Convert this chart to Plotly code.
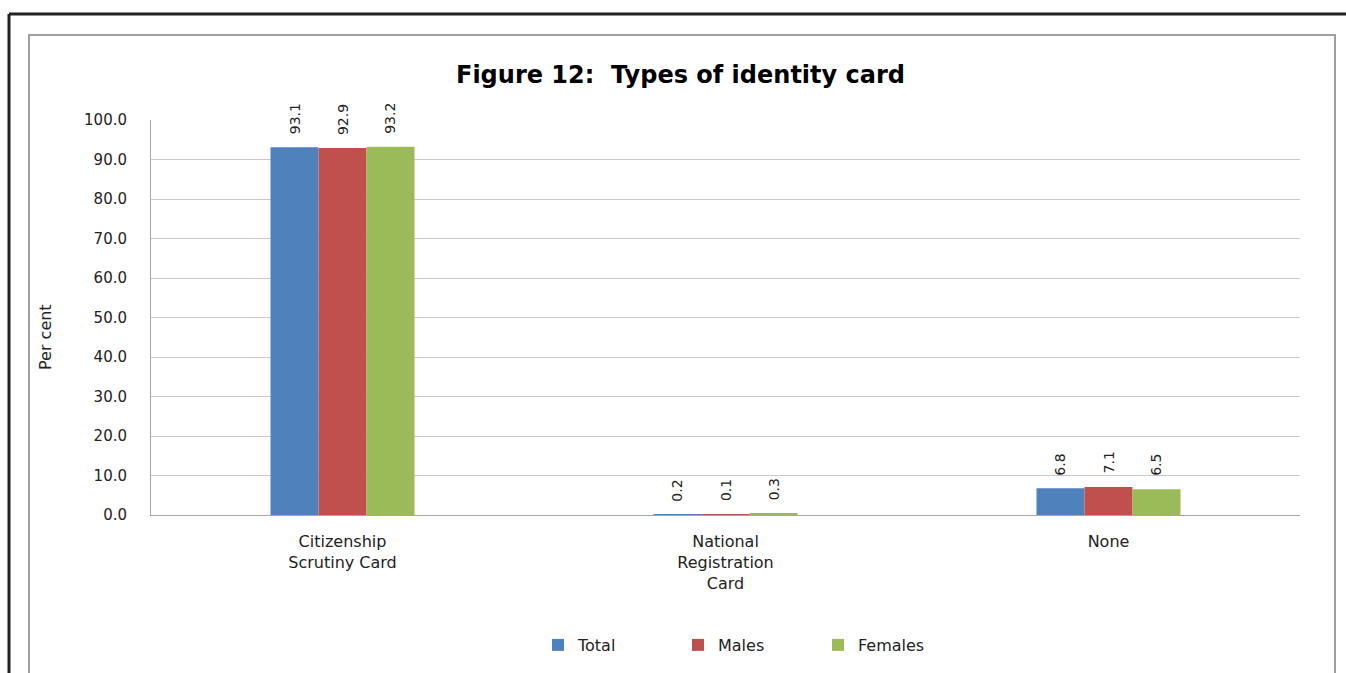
import plotly.graph_objects as go

categories = ["Citizenship<br>Scrutiny Card", "National<br>Registration<br>Card", "None"]
series_names = ["Total", "Males", "Females"]
total = [93.1, 0.2, 6.8]
males = [92.9, 0.1, 7.1]
females = [93.2, 0.3, 6.5]
colors = ["#4F81BD", "#C0504D", "#9BBB59"]
y_ticks = [0, 10, 20, 30, 40, 50, 60, 70, 80, 90, 100]

W, H = 1346, 673
x0, x1 = 151, 1300
ytop, ybot = 120, 515
FONT = "DejaVu Sans, Liberation Sans, Arial"

fig = go.Figure()
series = [total, males, females]
for name, vals, col in zip(series_names, series, colors):
    fig.add_trace(go.Bar(x=categories, y=vals, name=name, marker=dict(color=col, line=dict(width=0))))

bar_px = (x1 - x0) / 3 * 0.376 / 3
annotations = []
for i, vals in enumerate(series):
    for c, v in zip(categories, vals):
        annotations.append(dict(x=c, y=v, xref="x", yref="y", text=f"{v:.1f}", textangle=-90,
                                showarrow=False, yanchor="bottom", xanchor="center",
                                xshift=(i - 1) * bar_px, yshift=11,
                                font=dict(size=14, color="#222222", family=FONT)))

annotations.append(dict(text="<b>Figure 12:  Types of identity card</b>", x=680 / W, y=1 - 75 / H,
                        xref="paper", yref="paper", showarrow=False, xanchor="center", yanchor="middle",
                        font=dict(size=24, color="#000000", family=FONT)))
annotations.append(dict(text="Per cent", x=45 / W, y=1 - 337 / H, xref="paper", yref="paper",
                        showarrow=False, textangle=-90, xanchor="center", yanchor="middle",
                        font=dict(size=16, color="#222222", family=FONT)))

shapes = [
    dict(type="line", xref="paper", yref="paper", x0=9 / W, x1=1.0, y0=1 - 14 / H, y1=1 - 14 / H,
         line=dict(color="#222222", width=3)),
    dict(type="line", xref="paper", yref="paper", x0=9 / W, x1=9 / W, y0=0, y1=1 - 14 / H,
         line=dict(color="#222222", width=3)),
    dict(type="rect", xref="paper", yref="paper", x0=29 / W, x1=1335 / W, y0=-0.05, y1=1 - 35 / H,
         line=dict(color="#a0a0a0", width=2)),
]

fig.update_layout(
    template="none",
    width=W, height=H,
    margin=dict(l=0, r=0, t=0, b=0, pad=0, autoexpand=False),
    paper_bgcolor="white", plot_bgcolor="white",
    barmode="group", bargap=0.624, bargroupgap=0,
    font=dict(family=FONT, size=15, color="#222222"),
    xaxis=dict(domain=[x0 / W, x1 / W], showline=True, linecolor="#a6a6a6", linewidth=1,
               ticks="", ticklabelstandoff=12, tickfont=dict(size=16), automargin=False,
               showgrid=False, zeroline=False),
    yaxis=dict(domain=[1 - ybot / H, 1 - ytop / H], range=[0, 100], tickvals=y_ticks,
               tickformat=".1f", showline=True, linecolor="#a6a6a6", linewidth=1,
               showgrid=True, gridcolor="#c8c8c8", gridwidth=1, zeroline=False, ticks="",
               ticklabelstandoff=20, tickfont=dict(size=15), automargin=False),
    legend=dict(orientation="h", x=538 / W, y=1 - 645 / H, xanchor="left", yanchor="middle",
                font=dict(size=16), itemwidth=30, entrywidth=95, entrywidthmode="pixels"),
    annotations=annotations,
    shapes=shapes,
)

fig.write_html("out.html")
